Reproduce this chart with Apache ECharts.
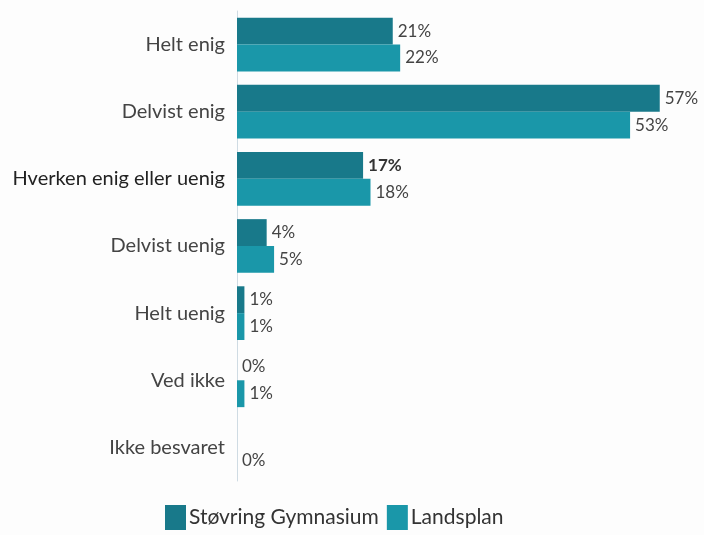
<!DOCTYPE html>
<html>
<head>
<meta charset="utf-8">
<script src="https://cdn.jsdelivr.net/npm/echarts@6/dist/echarts.min.js"></script>
<style>
  html, body { margin: 0; padding: 0; background: #fdfdfd; }
  #main { width: 704px; height: 535px; }
</style>
</head>
<body>
<div id="main"></div>
<script>
// svarkategorier, fra top til bund
var categories = ['Helt enig', 'Delvist enig', 'Hverken enig eller uenig', 'Delvist uenig', 'Helt uenig', 'Ved ikke', 'Ikke besvaret'];
var stovring = [21, 57, 17, 4, 1, 0, null];
var landsplan = [22, 53, 18, 5, 1, 1, 0];

var darkColor = '#18798a';
var lightColor = '#1a97a9';
var font = 'Lato, "Open Sans", sans-serif';

var myChart = echarts.init(document.getElementById('main'));
myChart.setOption({
  backgroundColor: '#fdfdfd',
  textStyle: { fontFamily: font },
  grid: { left: 237, right: 22, top: 11, bottom: 54, containLabel: false },
  legend: {
    bottom: 0,
    left: 160,
    itemWidth: 21,
    itemHeight: 25,
    itemGap: 8,
    icon: 'rect',
    textStyle: { fontSize: 21, color: '#333', fontFamily: font, padding: [0, 0, 0, -2] },
    data: ['Støvring Gymnasium', 'Landsplan']
  },
  xAxis: {
    type: 'value',
    min: 0,
    max: 60,
    show: false
  },
  yAxis: {
    type: 'category',
    inverse: true,
    data: categories,
    axisLine: { lineStyle: { color: '#cfdbe3' } },
    axisTick: { length: 4, lineStyle: { color: '#cfdbe3' } },
    axisLabel: {
      fontSize: 20,
      margin: 12,
      fontFamily: font,
      color: function (v, i) { return i === 2 ? '#222' : '#444'; }
    }
  },
  series: [
    {
      name: 'Støvring Gymnasium',
      type: 'bar',
      barGap: '0%',
      barCategoryGap: '20%',
      itemStyle: { color: darkColor },
      label: {
        show: true, position: 'right', distance: 5,
        fontSize: 17, color: '#444', fontFamily: font,
        formatter: function (p) { return p.value == null ? '' : p.value + '%'; }
      },
      data: stovring.map(function (v, i) {
        return i === 2 ? { value: v, label: { fontWeight: 'bold', color: '#333' } } : v;
      })
    },
    {
      name: 'Landsplan',
      type: 'bar',
      barGap: '0%',
      barCategoryGap: '20%',
      itemStyle: { color: lightColor },
      label: {
        show: true, position: 'right', distance: 5,
        fontSize: 17, color: '#444', fontFamily: font,
        formatter: '{c}%'
      },
      data: landsplan
    }
  ]
});
</script>
</body>
</html>
